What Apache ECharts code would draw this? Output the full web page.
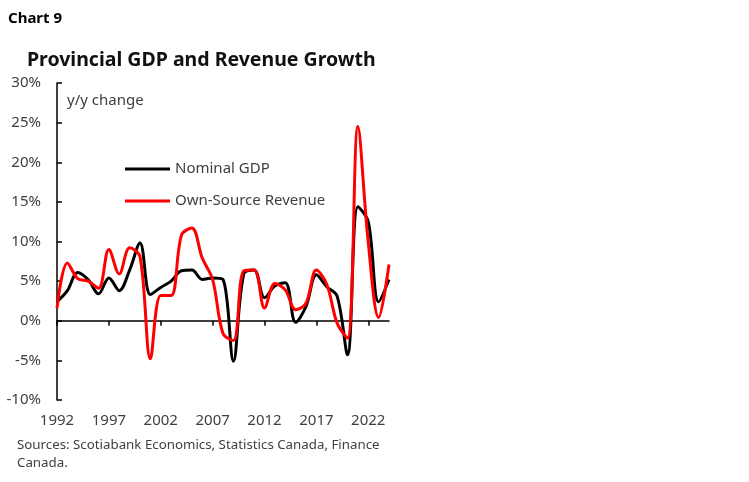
<!DOCTYPE html>
<html>
<head>
<meta charset="utf-8">
<script src="https://cdn.jsdelivr.net/npm/echarts@6/dist/echarts.min.js"></script>
<style>
html,body{margin:0;padding:0;background:#fff;}
#main{width:749px;height:482px;}
</style>
</head>
<body>
<div id="main"></div>
<script>
var years = [];
for (var y = 1992; y <= 2024; y++) years.push(String(y));

var nominalGDP = [2.4, 3.8, 6.1, 5.2, 3.4, 5.4, 3.8, 6.4, 9.8, 3.3,
                  4.2, 5.0, 6.3, 6.4, 5.2, 5.4, 5.2, -5.1, 5.9, 6.4,
                  2.9, 4.4, 4.8, -0.2, 1.8, 5.8, 4.3, 3.1, -4.3, 14.4,
                  12.5, 2.4, 5.2];
var ownSourceRevenue = [1.6, 7.3, 5.3, 5.0, 4.1, 9.0, 5.9, 9.2, 8.1, -4.8,
                        3.2, 3.2, 10.8, 11.7, 7.9, 5.2, -1.6, -2.5, 6.3, 6.4,
                        1.6, 4.7, 3.9, 1.4, 2.2, 6.4, 4.6, -0.3, -2.2, 24.5,
                        9.9, 0.4, 7.1];

var FONT = '"Noto Sans", "Open Sans", sans-serif';
var chart = echarts.init(document.getElementById('main'), null, {renderer: 'canvas'});
chart.setOption({
  animation: false,
  backgroundColor: '#fff',
  textStyle: {fontFamily: FONT},
  title: [
    {text: 'Chart 9', left: 3, top: 6, textStyle: {fontFamily: FONT, fontSize: 15, fontWeight: 'bold', color: '#000'}},
    {text: 'Provincial GDP and Revenue Growth', left: 22, top: 45, textStyle: {fontFamily: FONT, fontSize: 19.5, fontWeight: 'bold', color: '#111'}}
  ],
  graphic: [
    {type: 'text', left: 67, top: 93, style: {text: 'y/y change', font: '15px ' + FONT, fill: '#404040'}},
    {type: 'text', left: 17, top: 436, style: {text: 'Sources: Scotiabank Economics, Statistics Canada, Finance\nCanada.', font: '13.3px ' + FONT, fill: '#404040', lineHeight: 18}}
  ],
  legend: {
    orient: 'vertical',
    left: 120,
    top: 155,
    icon: 'rect',
    itemWidth: 45,
    itemHeight: 3,
    itemGap: 14,
    textStyle: {fontFamily: FONT, fontSize: 15, color: '#404040', lineHeight: 18},
    data: ['Nominal GDP', 'Own-Source Revenue']
  },
  grid: {left: 57, right: 360, top: 83, bottom: 82, containLabel: false, outerBoundsMode: 'none'},
  xAxis: [{
    type: 'category',
    data: years,
    boundaryGap: false,
    axisLine: {onZero: true, lineStyle: {color: '#000', width: 1.5}},
    axisTick: {show: true, interval: 4, length: 5, lineStyle: {color: '#000', width: 1.5}},
    axisLabel: {show: false},
    splitLine: {show: false}
  }, {
    type: 'category',
    data: years,
    boundaryGap: false,
    position: 'bottom',
    offset: 0,
    axisLine: {show: false, onZero: false},
    axisTick: {show: false},
    axisLabel: {interval: 4, margin: 13, color: '#404040', fontSize: 15, fontFamily: FONT},
    splitLine: {show: false}
  }],
  yAxis: {
    type: 'value',
    min: -10,
    max: 30,
    interval: 5,
    axisLine: {show: true, lineStyle: {color: '#000', width: 1.5}},
    axisTick: {show: true, inside: true, length: 5, lineStyle: {color: '#000', width: 1.5}},
    axisLabel: {formatter: '{value}%', margin: 16, color: '#404040', fontSize: 15, fontFamily: FONT},
    splitLine: {show: false}
  },
  series: [
    {name: 'Nominal GDP', type: 'line', xAxisIndex: 0, data: nominalGDP, smooth: 0.35, symbol: 'none',
     lineStyle: {color: '#000', width: 3}, itemStyle: {color: '#000'}, z: 2},
    {name: 'Own-Source Revenue', type: 'line', xAxisIndex: 0, data: ownSourceRevenue, smooth: 0.35, symbol: 'none',
     lineStyle: {color: '#ff0000', width: 3}, itemStyle: {color: '#ff0000'}, z: 3}
  ]
});
</script>
</body>
</html>
